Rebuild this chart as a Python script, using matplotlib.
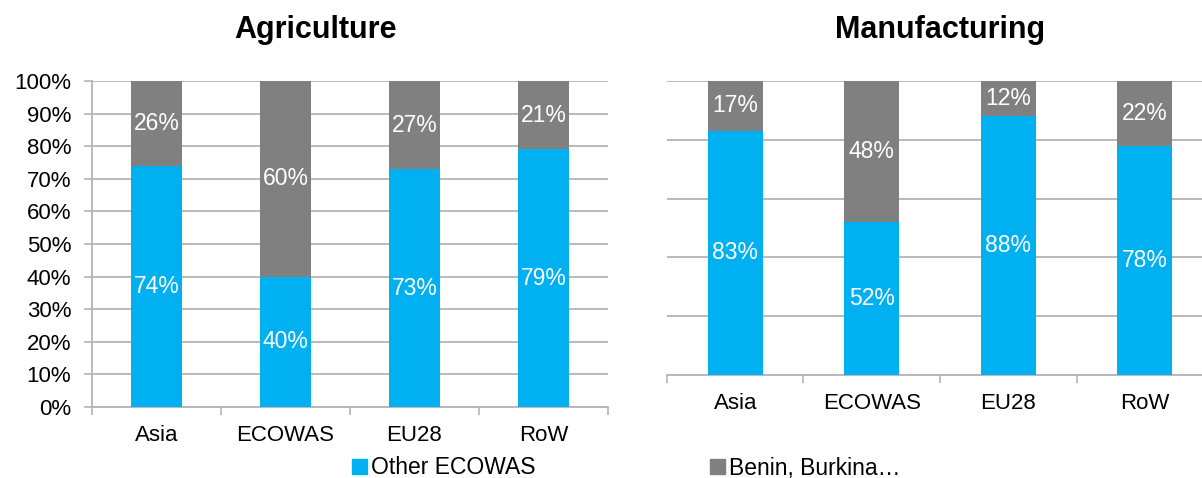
import matplotlib
matplotlib.use("Agg")
import matplotlib.pyplot as plt
from matplotlib.patches import Patch
import numpy as np

plt.rcParams['font.family'] = ['Liberation Sans', 'DejaVu Sans']

categories = ["Asia", "ECOWAS", "EU28", "RoW"]
agri_other = [74, 40, 73, 79]
agri_benin = [26, 60, 27, 21]
manu_other = [83, 52, 88, 78]
manu_benin = [17, 48, 12, 22]
series_names = ["Other ECOWAS", "Benin, Burkina\u2026"]
titles = ["Agriculture", "Manufacturing"]

BLUE = "#00B0F0"
GRAY = "#808080"
GRID = "#B4B4B4"

W, H = 1202, 478
fig = plt.figure(figsize=(W / 100, H / 100), dpi=100)

def px_rect(x0, y_top, x1, y_bot):
    return [x0 / W, 1 - y_bot / H, (x1 - x0) / W, (y_bot - y_top) / H]

ax1 = fig.add_axes(px_rect(92, 81, 608, 407))
ax2 = fig.add_axes(px_rect(667, 81, 1213, 375))

def draw(ax, other, benin, show_y):
    x = np.arange(len(categories))
    b1 = ax.bar(x, other, width=0.4, color=BLUE, zorder=3)
    b2 = ax.bar(x, benin, width=0.4, bottom=other, color=GRAY, zorder=3)
    for xi, o, b in zip(x, other, benin):
        ax.text(xi, o / 2, f"{o}%", ha="center", va="center", color="white", fontsize=16.5, zorder=4)
        ax.text(xi, o + b / 2, f"{b}%", ha="center", va="center", color="white", fontsize=16.5, zorder=4)
    ax.set_xlim(-0.5, len(categories) - 0.5)
    ax.set_ylim(0, 100)
    # boundaries as major ticks, labels at minor ticks
    ax.set_xticks(np.arange(len(categories) + 1) - 0.5)
    ax.set_xticklabels([])
    ax.set_xticks(x, minor=True)
    ax.set_xticklabels(categories, minor=True, fontsize=16)
    ax.tick_params(axis="x", which="major", length=6, width=1.2, color=GRID, direction="out")
    ax.tick_params(axis="x", which="minor", length=0, pad=13)
    for s in ["top", "right"]:
        ax.spines[s].set_visible(False)
    ax.spines["bottom"].set_color(GRID)
    ax.spines["bottom"].set_linewidth(1.3)
    if show_y:
        step = 10
        ax.spines["left"].set_color(GRID)
        ax.spines["left"].set_linewidth(1.3)
        ax.set_yticks(np.arange(0, 101, step))
        ax.set_yticklabels([f"{v}%" for v in range(0, 101, step)], fontsize=16)
        ax.tick_params(axis="y", length=6, width=1.2, color=GRID, pad=9)
    else:
        step = 20
        ax.spines["left"].set_visible(False)
        ax.set_yticks(np.arange(0, 101, step))
        ax.set_yticklabels([])
        ax.tick_params(axis="y", length=0)
    ax.yaxis.grid(True, color=GRID, linewidth=1.3, zorder=0)
    ax.set_axisbelow(True)
    return b1, b2

h1, h2 = draw(ax1, agri_other, agri_benin, True)
draw(ax2, manu_other, manu_benin, False)

fig.text(315 / W, 1 - 30 / H, titles[0], ha="center", va="center", fontsize=22, fontweight="bold")
fig.text(940 / W, 1 - 30 / H, titles[1], ha="center", va="center", fontsize=22, fontweight="bold")

handles = [Patch(color=BLUE), Patch(color=GRAY)]
fig.legend(handles, series_names, loc="center", bbox_to_anchor=(626 / W, 1 - 468 / H), ncol=2,
           frameon=False, fontsize=16.5, handlelength=0.68, handleheight=0.68, handletextpad=0.15,
           columnspacing=7.6, borderpad=0, borderaxespad=0)

fig.savefig("out.png", dpi=100)
